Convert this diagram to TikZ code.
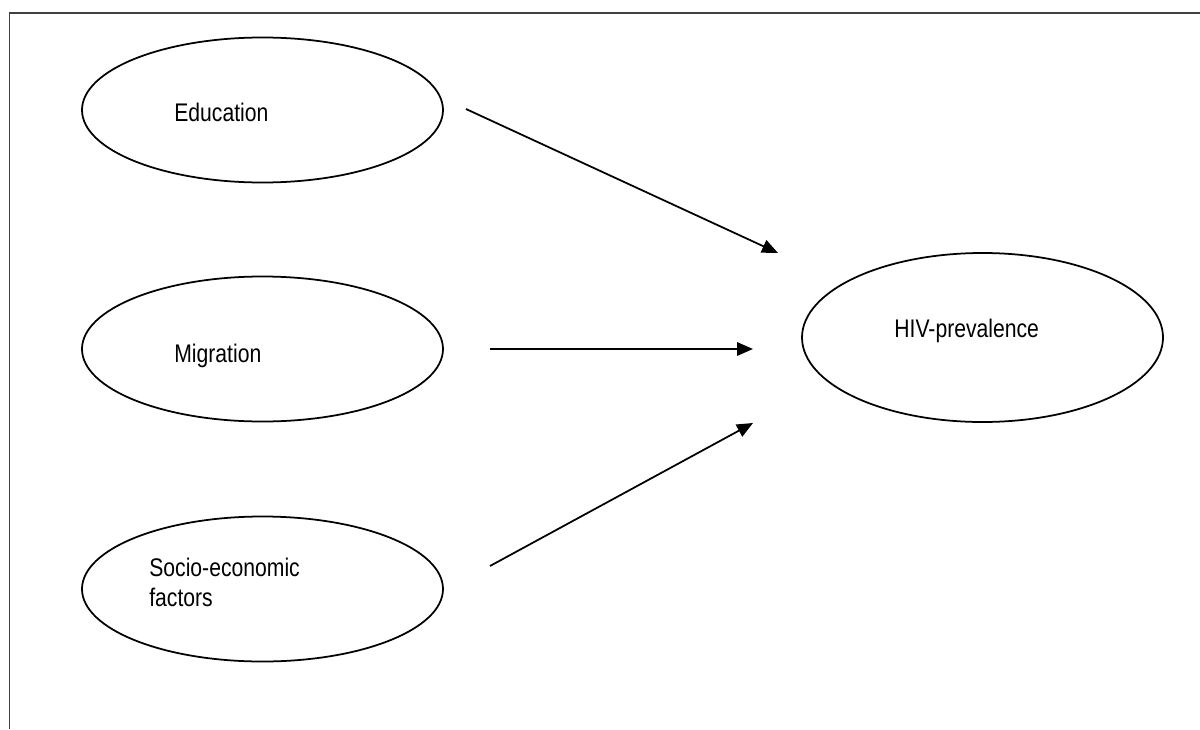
\documentclass[tikz,border=0pt]{standalone}
\usepackage{fontspec}
\setmainfont[FakeStretch=0.83]{Liberation Sans}
\usetikzlibrary{arrows.meta,shapes.geometric}

\begin{document}
\begin{tikzpicture}
   \tikzset{factor/.style = {ellipse, draw, line width=1pt, inner sep=0pt, minimum width=7.22cm, minimum height=2.9cm}, }
   \tikzset{outcome/.style = {factor, minimum height=3.38cm}, }
   \tikzset{lbl/.style = {inner sep=0pt, font=\fontsize{14.5}{17}\selectfont, align=left} }
   \tikzset{link/.style = {line width=1pt, -{Triangle[length=0.32cm,width=0.27cm]}} }
   \useasboundingbox (0,0) rectangle (24,-14.58);

   % frame of the page
   \draw[black!75, line width=0.8pt] (24,-0.26) -- (0.19,-0.26) -- (0.19,-14.58);

   % the three factors and the outcome
   \node[factor] (edu) at (5.25,-2.2) {};
   \node[factor] (mig) at (5.25,-6.98) {};
   \node[factor] (soc) at (5.25,-11.78) {};
   \node[outcome] (hiv) at (19.65,-6.75) {};

   \node[lbl, anchor=base west] (eduText) at (3.48,-2.42) {Education};
   \node[lbl, anchor=base west] (migText) at (3.48,-7.24) {Migration};
   \node[lbl, anchor=north west] (socText) at (2.98,-11.16) {Socio-economic\\factors};
   \node[lbl, anchor=base west] (hivText) at (17.88,-6.74) {HIV-prevalence};

   % free ends of the arrows
   \coordinate (eduStart) at (9.32,-2.18);
   \coordinate (eduEnd) at (15.56,-5.06);
   \coordinate (migStart) at (9.8,-6.98);
   \coordinate (migEnd) at (15.06,-6.98);
   \coordinate (socStart) at (9.8,-11.32);
   \coordinate (socEnd) at (15.06,-8.46);

   \draw[link] (eduStart) -- (eduEnd);
   \draw[link] (migStart) -- (migEnd);
   \draw[link] (socStart) -- (socEnd);
\end{tikzpicture}
\end{document}
